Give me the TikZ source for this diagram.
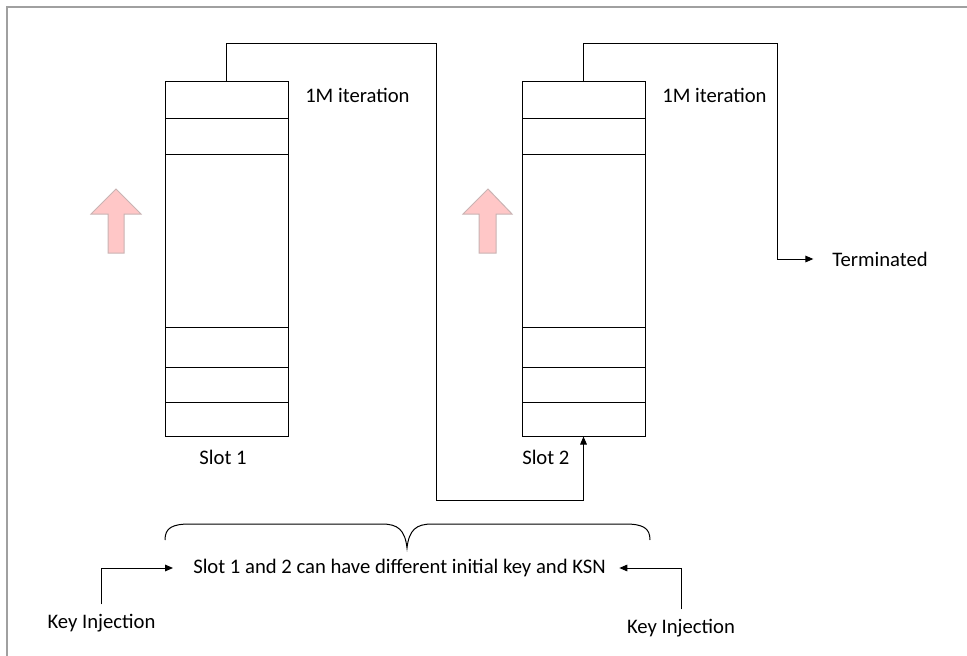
\documentclass[tikz,border=0pt]{standalone}
\usepackage{fontspec}
\setmainfont{Carlito}
\usetikzlibrary{arrows.meta}
\definecolor{pinkfill}{HTML}{FFC7C7}
\definecolor{pinkedge}{HTML}{C9B3B3}
\definecolor{framegray}{HTML}{A0A0A0}
\begin{document}
\begin{tikzpicture}[x=0.75pt,y=-0.75pt,
  line/.style={draw=black,line width=0.75pt},
  conn/.style={line,-{Triangle[length=6pt,width=5pt]}},
  slotbox/.style={draw=black,line width=0.75pt,minimum width=92.25pt,minimum height=265.5pt,inner sep=0pt},
  lbl/.style={font=\fontsize{15.5}{18}\selectfont,inner sep=0pt},
  pinkarrow/.style={fill=pinkfill,draw=pinkedge,line width=0.75pt}]
\useasboundingbox (0,0) rectangle (967,656);
\draw[framegray,line width=1pt] (7,656) -- (7,7) -- (967,7);

% slot boxes
\node[slotbox] (s1) at (226.5,259) {};
\node[slotbox] (s2) at (583.5,259) {};
\foreach \yy in {119,155,327,367,402}{
  \draw[line] (165,\yy) -- (288,\yy);
  \draw[line] (522,\yy) -- (645,\yy);
}

% pink arrows
\draw[pinkarrow] (116,189) -- (141,214) -- (124,214) -- (124,253) -- (108,253) -- (108,214) -- (91,214) -- cycle;
\draw[pinkarrow] (488,189) -- (512,214) -- (496,214) -- (496,253) -- (479,253) -- (479,214) -- (463,214) -- cycle;

% labels
\node[lbl,anchor=west] (it1) at (305,95) {1M iteration};
\node[lbl,anchor=west] (it2) at (662,95) {1M iteration};
\node[lbl] (sl1) at (223,457) {Slot 1};
\node[lbl,anchor=west] (sl2) at (522,457) {Slot 2};
\node[lbl,anchor=west] (term) at (832,259) {Terminated};
\node[lbl,anchor=west] (main) at (193,568) {Slot 1 and 2 can have different initial key and KSN};
\node[lbl] (ki1) at (101.5,623) {Key Injection};
\node[lbl] (ki2) at (681,628) {Key Injection};

% connectors
\coordinate (t1) at (436,44);
\coordinate (b1) at (436,500);
\draw[conn] (s1.north) |- (t1) -- (b1) -| (s2.south);
\coordinate (t2) at (777,44);
\draw[conn] (s2.north) |- (t2) |- ([xshift=-14pt]term.west);
\draw[conn] ([yshift=7pt]ki1.north) |- ([xshift=-15pt]main.west);
\draw[conn] ([yshift=7pt]ki2.north) |- ([xshift=10pt]main.east);

% brace
\draw[line] (165,540) .. controls (165,528) and (172,524) .. (190,524) -- (382,524)
  .. controls (398,524) and (405,530) .. (407,548)
  .. controls (409,530) and (416,524) .. (432,524) -- (625,524)
  .. controls (643,524) and (650,528) .. (650,540);
\end{tikzpicture}
\end{document}
